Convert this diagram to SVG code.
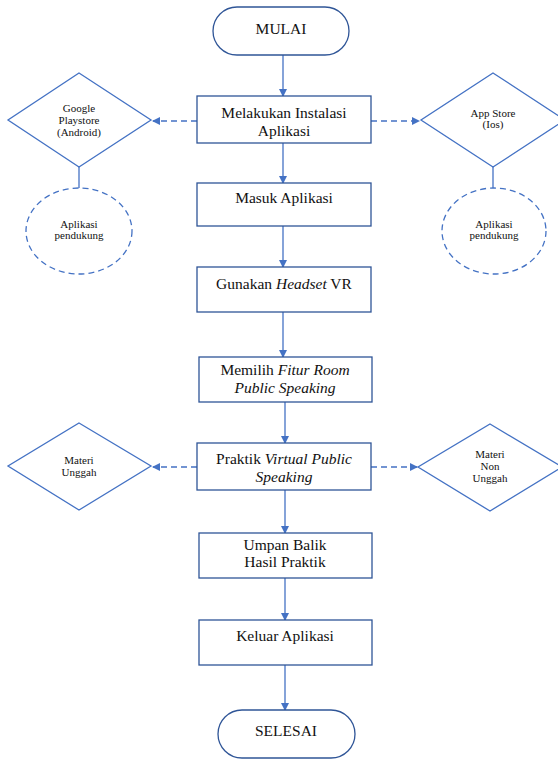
<svg xmlns="http://www.w3.org/2000/svg" width="558" height="759" viewBox="0 0 558 759">
<style>
.box{fill:#fff;stroke:#2F5597;stroke-width:1.3}
.term{fill:#fff;stroke:#2F5597;stroke-width:1.3}
.dia{fill:#fff;stroke:#4472C4;stroke-width:1.3}
.circ{fill:#fff;stroke:#4472C4;stroke-width:1.3;stroke-dasharray:6 4}
.t{font-family:'Liberation Serif','Times New Roman',serif;font-size:15.5px;fill:#111;text-anchor:middle}
.s{font-family:'Liberation Serif','Times New Roman',serif;font-size:11px;fill:#111;text-anchor:middle}
.c{stroke:#4472C4;stroke-width:1.3;fill:none}
.d{stroke:#4472C4;stroke-width:1.3;fill:none;stroke-dasharray:6 4}
</style>
<defs>
<marker id="a" markerWidth="8" markerHeight="8" refX="7" refY="4" orient="auto" markerUnits="userSpaceOnUse">
<path d="M0,0 L8,4 L0,8 Z" fill="#4472C4"/>
</marker>
</defs>
<g id="connectors">
<line class="c" x1="283" y1="55" x2="283" y2="96" marker-end="url(#a)"/>
<line class="c" x1="283" y1="143" x2="283" y2="183" marker-end="url(#a)"/>
<line class="c" x1="283" y1="226" x2="283" y2="267" marker-end="url(#a)"/>
<line class="c" x1="283" y1="312" x2="283" y2="357" marker-end="url(#a)"/>
<line class="c" x1="285" y1="402" x2="285" y2="443" marker-end="url(#a)"/>
<line class="c" x1="285" y1="490" x2="285" y2="533" marker-end="url(#a)"/>
<line class="c" x1="285" y1="578" x2="285" y2="620" marker-end="url(#a)"/>
<line class="c" x1="285" y1="665" x2="285" y2="710" marker-end="url(#a)"/>
<line class="d" x1="197" y1="121" x2="153" y2="121" marker-end="url(#a)"/>
<line class="d" x1="371" y1="121" x2="419" y2="121" marker-end="url(#a)"/>
<line class="c" x1="79" y1="167" x2="79" y2="188"/>
<line class="c" x1="493" y1="167" x2="493" y2="188"/>
<line class="d" x1="197" y1="467" x2="153" y2="467" marker-end="url(#a)"/>
<line class="d" x1="371" y1="467" x2="417" y2="467" marker-end="url(#a)"/>
</g>
<g id="mulai">
<rect class="term" x="213" y="7" width="136" height="48" rx="24"/>
<text class="t" x="281" y="34">MULAI</text>
</g>
<g id="instalasi">
<rect class="box" x="197" y="96" width="174" height="47"/>
<text class="t" x="284" y="118">Melakukan Instalasi</text>
<text class="t" x="284" y="136">Aplikasi</text>
</g>
<g id="playstore">
<polygon class="dia" points="79,73 151,120 79,167 8,120"/>
<text class="s" x="79" y="111.5">Google</text>
<text class="s" x="79" y="123.5">Playstore</text>
<text class="s" x="79" y="135.5">(Android)</text>
</g>
<g id="appstore">
<polygon class="dia" points="493,73 565,120 493,167 421,120"/>
<text class="s" x="493" y="116.5">App Store</text>
<text class="s" x="493" y="128">(Ios)</text>
</g>
<g id="pendukung-kiri">
<ellipse class="circ" cx="79" cy="231" rx="53" ry="43"/>
<text class="s" x="79" y="228">Aplikasi</text>
<text class="s" x="79" y="239">pendukung</text>
</g>
<g id="pendukung-kanan">
<ellipse class="circ" cx="494" cy="231" rx="52" ry="43"/>
<text class="s" x="494" y="228">Aplikasi</text>
<text class="s" x="494" y="239">pendukung</text>
</g>
<g id="masuk">
<rect class="box" x="197" y="183" width="174" height="43"/>
<text class="t" x="284" y="203">Masuk Aplikasi</text>
</g>
<g id="headset">
<rect class="box" x="197" y="267" width="174" height="45"/>
<text class="t" x="284" y="289">Gunakan <tspan font-style="italic">Headset</tspan> VR</text>
</g>
<g id="fitur">
<rect class="box" x="199" y="357" width="173" height="45"/>
<text class="t" x="285" y="375">Memilih <tspan font-style="italic">Fitur Room</tspan></text>
<text class="t" x="285" y="393" font-style="italic">Public Speaking</text>
</g>
<g id="praktik">
<rect class="box" x="197" y="443" width="174" height="47"/>
<text class="t" x="284" y="464">Praktik <tspan font-style="italic">Virtual Public</tspan></text>
<text class="t" x="284" y="482" font-style="italic">Speaking</text>
</g>
<g id="unggah">
<polygon class="dia" points="79,423 151,466 79,510 8,466"/>
<text class="s" x="79" y="464">Materi</text>
<text class="s" x="79" y="476">Unggah</text>
</g>
<g id="non-unggah">
<polygon class="dia" points="490,424 562,467 490,511 418,467"/>
<text class="s" x="490" y="458">Materi</text>
<text class="s" x="490" y="470">Non</text>
<text class="s" x="490" y="482">Unggah</text>
</g>
<g id="umpan">
<rect class="box" x="199" y="533" width="173" height="45"/>
<text class="t" x="285" y="550">Umpan Balik</text>
<text class="t" x="285" y="567">Hasil Praktik</text>
</g>
<g id="keluar">
<rect class="box" x="199" y="620" width="173" height="45"/>
<text class="t" x="285" y="641">Keluar Aplikasi</text>
</g>
<g id="selesai">
<rect class="term" x="218" y="710" width="137" height="48" rx="24"/>
<text class="t" x="286" y="736">SELESAI</text>
</g>
</svg>
